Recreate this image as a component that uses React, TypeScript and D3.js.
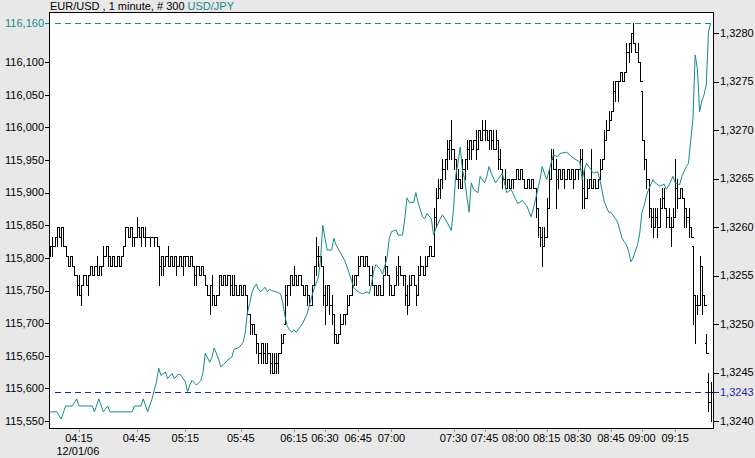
import React from "react";
import * as d3 from "d3";

// EUR/USD one-minute bars, in pips above 1.3200
const eurOpen = [
  57, 58, 58, 59, 60, 59, 60, 58, 57, 56,
  57, 56, 55, 54, 53, 54, 55, 54, 55, 56,
  55, 56, 55, 56, 56, 57, 58, 57, 56, 57,
  56, 57, 56, 57, 58, 60, 59, 60, 59, 59,
  60, 59, 60, 59, 59, 59, 59, 59, 59, 58,
  56, 57, 56, 57, 56, 57, 56, 57, 56, 57,
  56, 57, 57, 56, 57, 56, 55, 56, 55, 56,
  55, 54, 53, 54, 53, 52, 53, 55, 54, 55,
  54, 55, 54, 53, 54, 53, 54, 53, 54, 53,
  51, 50, 50, 49, 48, 47, 48, 47, 46, 47,
  46, 45, 46, 46, 47, 48, 50, 53, 54, 55,
  54, 55, 54, 55, 54, 53, 54, 53, 52, 54,
  56, 57, 57, 56, 53, 52, 54, 52, 51, 49,
  48, 49, 50, 51, 51, 52, 53, 54, 55, 55,
  56, 57, 56, 57, 56, 55, 54, 54, 53, 54,
  53, 55, 56, 55, 54, 53, 54, 55, 56, 55,
  55, 53, 52, 54, 55, 54, 53, 55, 56, 55,
  56, 57, 58, 57, 61, 63, 64, 65, 66, 67,
  68, 69, 68, 67, 65, 65, 64, 66, 67, 68,
  69, 68, 69, 68, 70, 69, 70, 70, 69, 70,
  69, 68, 69, 67, 66, 65, 64, 65, 64, 65,
  65, 66, 65, 66, 65, 64, 65, 64, 65, 64,
  62, 60, 59, 58, 59, 62, 65, 67, 66, 65,
  66, 65, 66, 65, 66, 65, 66, 65, 66, 66,
  67, 64, 63, 64, 65, 64, 65, 64, 65, 66,
  67, 69, 70, 71, 72, 74, 75, 75, 76, 75,
  76, 78, 79, 80, 79, 78, 77, 74, 69, 67,
  65, 62, 61, 60, 61, 60, 62, 63, 62, 61,
  60, 60, 61, 64, 63, 64, 63, 62, 61, 60,
  58, 53, 52, 52, 56, 53, 48, 44, 42,
];
const eurHigh = [
  58, 59, 59, 60, 60, 60, 60, 58, 57, 57,
  57, 56, 55, 55, 54, 55, 55, 55, 56, 56,
  56, 57, 56, 56, 58, 58, 58, 57, 57, 57,
  57, 57, 57, 58, 60, 60, 60, 60, 59, 61,
  60, 60, 60, 60, 59, 59, 59, 59, 59, 58,
  57, 57, 57, 58, 57, 57, 57, 57, 57, 57,
  57, 57, 57, 57, 57, 56, 56, 56, 56, 56,
  55, 54, 54, 55, 53, 53, 55, 55, 55, 55,
  55, 55, 55, 55, 54, 54, 54, 54, 54, 53,
  51, 50, 50, 49, 48, 48, 48, 48, 48, 47,
  47, 47, 47, 47, 49, 49, 54, 54, 55, 55,
  56, 55, 55, 55, 54, 54, 54, 53, 54, 56,
  59, 58, 57, 56, 54, 54, 54, 53, 51, 49,
  49, 51, 51, 51, 53, 53, 55, 55, 55, 57,
  57, 57, 57, 57, 56, 56, 54, 54, 54, 54,
  55, 57, 56, 55, 54, 54, 56, 57, 56, 55,
  55, 54, 55, 55, 55, 54, 56, 57, 56, 57,
  57, 58, 58, 62, 64, 65, 65, 67, 67, 69,
  69, 71, 68, 67, 66, 65, 67, 67, 69, 69,
  69, 69, 70, 70, 70, 71, 71, 70, 70, 70,
  70, 70, 69, 68, 66, 66, 65, 65, 65, 65,
  66, 66, 66, 66, 65, 65, 65, 65, 65, 64,
  62, 60, 60, 60, 63, 66, 68, 68, 67, 66,
  66, 66, 66, 66, 66, 66, 66, 66, 66, 68,
  68, 66, 65, 65, 68, 65, 65, 65, 67, 67,
  70, 71, 72, 72, 75, 75, 75, 76, 76, 76,
  79, 79, 80, 81, 79, 79, 77, 74, 69, 67,
  65, 62, 62, 62, 62, 63, 64, 64, 62, 62,
  61, 62, 67, 65, 64, 64, 63, 62, 62, 60,
  58, 53, 53, 57, 56, 53, 49, 45, 44,
];
const eurLow = [
  57, 57, 58, 58, 59, 58, 58, 57, 56, 56,
  56, 55, 53, 53, 52, 54, 54, 53, 55, 55,
  55, 55, 55, 55, 56, 57, 56, 56, 56, 56,
  56, 56, 56, 57, 58, 59, 59, 58, 58, 59,
  59, 58, 59, 58, 59, 58, 59, 58, 58, 54,
  55, 55, 56, 56, 56, 56, 56, 55, 56, 56,
  55, 56, 56, 56, 56, 54, 54, 55, 55, 55,
  54, 53, 51, 52, 52, 52, 53, 54, 54, 54,
  54, 53, 53, 53, 53, 53, 53, 53, 53, 51,
  49, 49, 49, 47, 46, 46, 46, 46, 46, 45,
  45, 45, 45, 45, 47, 48, 50, 52, 53, 54,
  54, 54, 54, 54, 53, 53, 52, 52, 52, 54,
  55, 56, 56, 52, 50, 52, 51, 50, 48, 48,
  48, 49, 50, 50, 51, 52, 53, 54, 54, 55,
  56, 56, 56, 56, 54, 54, 53, 53, 53, 53,
  53, 55, 55, 53, 53, 53, 54, 54, 55, 54,
  52, 51, 52, 54, 54, 52, 53, 55, 55, 55,
  56, 57, 57, 57, 60, 63, 63, 64, 65, 66,
  67, 67, 66, 65, 64, 64, 64, 65, 66, 67,
  67, 68, 67, 68, 69, 69, 69, 69, 68, 68,
  68, 68, 66, 66, 64, 64, 64, 64, 64, 64,
  65, 65, 65, 65, 64, 64, 64, 64, 64, 61,
  59, 58, 56, 58, 59, 62, 65, 66, 62, 64,
  65, 65, 64, 65, 65, 65, 64, 65, 65, 66,
  62, 62, 63, 64, 64, 64, 64, 64, 65, 66,
  67, 69, 70, 71, 72, 73, 73, 75, 75, 75,
  76, 77, 78, 79, 78, 77, 75, 69, 66, 64,
  61, 60, 59, 60, 59, 60, 62, 62, 60, 60,
  58, 60, 61, 62, 63, 63, 60, 60, 59, 59,
  50, 48, 51, 52, 51, 52, 47, 41, 40,
];
const eurClose = [
  58, 58, 59, 60, 59, 60, 58, 57, 56, 57,
  56, 55, 54, 53, 54, 55, 54, 55, 56, 55,
  56, 55, 56, 56, 57, 58, 57, 56, 57, 56,
  57, 56, 57, 58, 60, 59, 60, 59, 59, 60,
  59, 60, 59, 59, 59, 59, 59, 59, 58, 56,
  57, 56, 57, 56, 57, 56, 57, 56, 57, 56,
  57, 57, 56, 57, 56, 55, 56, 55, 56, 55,
  54, 53, 54, 53, 52, 53, 55, 54, 55, 54,
  55, 54, 53, 54, 53, 54, 53, 54, 53, 51,
  50, 50, 49, 48, 47, 48, 47, 46, 47, 46,
  45, 46, 46, 47, 48, 49, 53, 54, 55, 54,
  55, 54, 55, 54, 53, 54, 53, 52, 54, 56,
  57, 57, 56, 53, 52, 54, 52, 51, 49, 48,
  49, 50, 51, 51, 52, 53, 54, 55, 55, 56,
  57, 56, 57, 56, 55, 54, 54, 53, 54, 53,
  55, 56, 55, 54, 53, 54, 55, 56, 55, 55,
  53, 52, 54, 55, 54, 53, 55, 56, 55, 56,
  57, 58, 57, 61, 63, 64, 65, 66, 67, 68,
  69, 68, 67, 65, 65, 64, 66, 67, 68, 69,
  68, 69, 68, 70, 69, 70, 70, 69, 70, 69,
  68, 69, 67, 66, 65, 64, 65, 64, 65, 65,
  66, 65, 66, 65, 64, 65, 64, 65, 64, 62,
  60, 59, 58, 59, 62, 65, 67, 66, 65, 66,
  65, 66, 65, 66, 65, 66, 65, 66, 66, 67,
  64, 63, 64, 65, 64, 65, 64, 65, 66, 67,
  69, 70, 71, 72, 74, 75, 75, 76, 75, 76,
  78, 79, 80, 79, 78, 77, 75, 69, 67, 65,
  62, 61, 60, 61, 60, 62, 63, 62, 61, 60,
  60, 61, 64, 63, 64, 63, 62, 61, 60, 59,
  53, 52, 52, 56, 53, 52, 47, 42, 43,
];

// USD/JPY closes, read at these bar positions
const jpyBar = [
  0, 3, 5, 7, 10, 12, 13, 19, 20, 22, 24, 26, 27, 37, 38, 41, 42, 44, 46, 47,
  48, 49, 50, 52, 53, 55, 56, 58, 59, 61, 62, 63, 64, 66, 68, 69, 70, 72, 73, 74,
  76, 77, 78, 80, 82, 83, 85, 87, 88, 89, 90, 91, 92, 93, 94, 95, 97, 98, 99, 100,
  102, 104, 105, 106, 107, 108, 109, 110, 111, 113, 114, 116, 117, 118, 119, 121, 122, 123, 124, 125,
  127, 128, 129, 131, 133, 134, 136, 137, 139, 141, 143, 144, 145, 146, 147, 149, 150, 152, 153, 154,
  156, 157, 159, 160, 161, 162, 164, 165, 166, 168, 169, 170, 172, 173, 174, 176, 177, 179, 181, 182,
  183, 184, 185, 186, 187, 189, 190, 191, 193, 194, 196, 197, 198, 199, 201, 202, 204, 205, 206, 208,
  210, 211, 213, 215, 217, 218, 219, 221, 222, 223, 224, 226, 227, 229, 230, 233, 235, 236, 239, 240,
  241, 242, 244, 245, 247, 248, 250, 252, 253, 255, 256, 258, 259, 260, 261, 262, 263, 264, 265, 266,
  267, 268, 269, 270, 272, 273, 275, 277, 278, 279, 281, 282, 284, 285, 287, 288, 289, 290, 291, 292,
  293, 294, 295, 296, 297, 298,
];
const jpyRate = [
  115.564, 115.564, 115.553, 115.573, 115.573, 115.584, 115.573, 115.573, 115.564, 115.584,
  115.564, 115.573, 115.564, 115.564, 115.573, 115.573, 115.584, 115.564, 115.584, 115.598,
  115.61, 115.631, 115.62, 115.625, 115.615, 115.623, 115.615, 115.622, 115.62, 115.61,
  115.595, 115.605, 115.612, 115.605, 115.612, 115.625, 115.654, 115.64, 115.648, 115.662,
  115.645, 115.633, 115.636, 115.643, 115.648, 115.66, 115.662, 115.67, 115.685, 115.716,
  115.73, 115.746, 115.755, 115.76, 115.752, 115.748, 115.755, 115.748, 115.752, 115.75,
  115.748, 115.745, 115.73, 115.71, 115.695, 115.69, 115.686, 115.69, 115.686, 115.695,
  115.7, 115.715, 115.728, 115.74, 115.752, 115.77, 115.797, 115.85, 115.83, 115.812,
  115.812, 115.83, 115.82, 115.808, 115.795, 115.786, 115.765, 115.754, 115.748, 115.745,
  115.748, 115.745, 115.76, 115.78, 115.79, 115.782, 115.775, 115.8, 115.83, 115.84,
  115.843, 115.835, 115.835, 115.86, 115.892, 115.885, 115.885, 115.9, 115.885, 115.863,
  115.86, 115.868, 115.86, 115.835, 115.845, 115.86, 115.866, 115.855, 115.842, 115.875,
  115.927, 115.945, 115.97, 115.935, 115.92, 115.87, 115.915, 115.905, 115.9, 115.925,
  115.915, 115.925, 115.94, 115.93, 115.915, 115.92, 115.93, 115.915, 115.9, 115.905,
  115.89, 115.883, 115.888, 115.88, 115.863, 115.875, 115.89, 115.92, 115.94, 115.93,
  115.92, 115.945, 115.958, 115.955, 115.96, 115.962, 115.956, 115.953, 115.947, 115.92,
  115.935, 115.945, 115.935, 115.93, 115.932, 115.92, 115.886, 115.87, 115.87, 115.86,
  115.855, 115.83, 115.825, 115.82, 115.81, 115.794, 115.8, 115.81, 115.82, 115.838,
  115.87, 115.88, 115.895, 115.905, 115.92, 115.915, 115.91, 115.913, 115.905, 115.91,
  115.925, 115.915, 115.912, 115.925, 115.94, 115.945, 115.98, 116.013, 116.111, 116.09,
  116.024, 116.04, 116.05, 116.065, 116.146, 116.16,
];

const timeTicks = [
  "04:15", "04:45", "05:15", "05:45", "06:15", "06:30", "06:45", "07:00",
  "07:30", "07:45", "08:00", "08:15", "08:30", "08:45", "09:00", "09:15",
];
const timeTickBar = [13, 39, 61, 86, 110, 124, 139, 154, 182, 196, 210, 224, 238, 253, 267, 282];
const dateLabel = "12/01/06";

const jpyTicks = [115.55, 115.6, 115.65, 115.7, 115.75, 115.8, 115.85, 115.9, 115.95, 116.0, 116.05, 116.1];
const jpyLast = 116.16;
const eurTicks = [1.324, 1.3245, 1.325, 1.3255, 1.326, 1.3265, 1.327, 1.3275, 1.328];
const eurLast = 1.3243;

const W = 755;
const H = 458;
const left = 49;
const right = 714;
const top = 12;
const bottom = 429;
const TEAL = "#178a8a";
const BLUE = "#1f1fb0";
const font = "'Liberation Sans', Arial, sans-serif";

const comma = (f: (n: number) => string) => (n: number) => f(n).replace(".", ",");
const fmtJpy = comma(d3.format(".3f"));
const fmtEur = comma(d3.format(".4f"));

export default function App() {
  const x = d3.scaleLinear().domain([0, 300]).range([left, right]);
  const yJpy = d3.scaleLinear().domain([115.55, 116.16]).range([421, 23]);
  const yEur = d3.scaleLinear().domain([1.324, 1.328]).range([421, 33]);
  const px = (v: number) => Math.round(v) + 0.5;
  const eur = (p: number) => 1.32 + p / 10000;

  const bars = eurOpen.map((o, i) => ({
    i,
    o: eur(o),
    h: eur(eurHigh[i]),
    l: eur(eurLow[i]),
    c: eur(eurClose[i]),
  }));

  const jpyLine = d3
    .line<number>()
    .x((d, k) => x(jpyBar[k] + 0.5))
    .y((d) => yJpy(d));

  return (
    <svg
      width={W}
      height={H}
      style={{ position: "absolute", left: 0, top: 0, background: "#e8e8e8" }}
      fontFamily={font}
      fontSize={11}
    >
      <rect x={0} y={0} width={W} height={H} fill="#e8e8e8" />
      <rect x={left} y={top} width={right - left} height={bottom - top} fill="#fff" />

      <text x={50} y={10} fill="#000">
        EUR/USD , 1 minute, # 300 <tspan fill={TEAL}>USD/JPY</tspan>
      </text>

      {/* reference lines for last values */}
      <line
        x1={left + 6}
        x2={right}
        y1={px(yJpy(jpyLast))}
        y2={px(yJpy(jpyLast))}
        stroke={TEAL}
        strokeDasharray="6,4"
      />
      <line
        x1={left + 6}
        x2={right}
        y1={px(yEur(eurLast))}
        y2={px(yEur(eurLast))}
        stroke={BLUE}
        strokeDasharray="6,4"
      />

      {/* EUR/USD OHLC bars */}
      <g stroke="#000" strokeWidth={1} shapeRendering="crispEdges">
        {bars.map((b) => {
          const cx = Math.round(x(b.i + 0.5)) + 0.5;
          return (
            <g key={b.i}>
              <line x1={cx} x2={cx} y1={Math.round(yEur(b.h))} y2={Math.round(yEur(b.l)) + 1} />
              <line x1={cx - 2} x2={cx} y1={px(yEur(b.o))} y2={px(yEur(b.o))} />
              <line x1={cx} x2={cx + 2} y1={px(yEur(b.c))} y2={px(yEur(b.c))} />
            </g>
          );
        })}
      </g>

      {/* USD/JPY line */}
      <path d={jpyLine(jpyRate) || ""} fill="none" stroke={TEAL} strokeWidth={1} />

      <rect
        x={left + 0.5}
        y={top + 0.5}
        width={right - left - 1}
        height={bottom - top - 1}
        fill="none"
        stroke="#000"
        shapeRendering="crispEdges"
      />

      {/* left axis */}
      <g shapeRendering="crispEdges">
        {jpyTicks.map((t) => (
          <g key={t}>
            <line x1={left - 4} x2={left} y1={px(yJpy(t))} y2={px(yJpy(t))} stroke="#000" />
            <text x={left - 5} y={yJpy(t)} dy="0.35em" textAnchor="end" fill="#000">
              {fmtJpy(t)}
            </text>
          </g>
        ))}
        <line x1={left - 4} x2={left} y1={px(yJpy(jpyLast))} y2={px(yJpy(jpyLast))} stroke={TEAL} />
        <text x={left - 5} y={yJpy(jpyLast)} dy="0.35em" textAnchor="end" fill={TEAL}>
          {fmtJpy(jpyLast)}
        </text>
      </g>

      {/* right axis */}
      <g shapeRendering="crispEdges">
        {eurTicks.map((t) => (
          <g key={t}>
            <line x1={right} x2={right + 5} y1={px(yEur(t))} y2={px(yEur(t))} stroke="#000" />
            <text x={right + 6} y={yEur(t)} dy="0.35em" fill="#000">
              {fmtEur(t)}
            </text>
          </g>
        ))}
        <line x1={right} x2={right + 5} y1={px(yEur(eurLast))} y2={px(yEur(eurLast))} stroke={BLUE} />
        <text x={right + 6} y={yEur(eurLast)} dy="0.35em" fill={BLUE}>
          {fmtEur(eurLast)}
        </text>
      </g>

      {/* time axis */}
      <g shapeRendering="crispEdges">
        {timeTicks.map((t, k) => {
          const tx = x(timeTickBar[k] + 0.5);
          return (
            <g key={t}>
              <line x1={px(tx)} x2={px(tx)} y1={bottom} y2={bottom + 3} stroke="#9a9a9a" />
              <text x={tx} y={442} textAnchor="middle" fill="#000">
                {t}
              </text>
            </g>
          );
        })}
        <text x={x(timeTickBar[0] + 0.5) - 1} y={455} textAnchor="middle" fill="#000">
          {dateLabel}
        </text>
      </g>
    </svg>
  );
}
